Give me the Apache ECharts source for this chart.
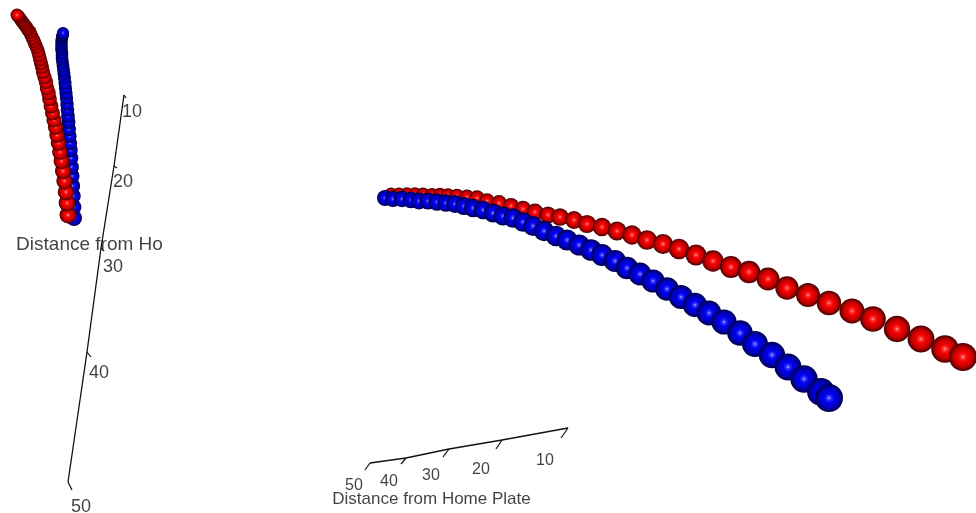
<!DOCTYPE html>
<html><head><meta charset="utf-8">
<style>html,body{margin:0;padding:0;background:#fff}#c{width:976px;height:513px}</style>
<script src="https://cdn.jsdelivr.net/npm/echarts@6/dist/echarts.min.js"></script>
</head><body><div id="c"></div>
<script>
// Picture-plane readings of each projected trajectory (x, y)
const sideRedX = [68,67,66,64.5,63,61.5,60,58.5,57,55.5,54,52.5,51,49.5,48.5,47,46,44.5,43,42,41,40,39,38,36.5,35,34,32.5,31,30,28,27,25.5,24,22.5,21,20,19,18,17];
const sideRedY = [215,203,192,181,171,161,152,143,135,127,120,113,106,99,93,88,82,77,72,67,63,59,55,51,47,44,41,38,35,32,30,28,26,24,22,20,18.5,17,16,15];
const sideBlueX = [74,73.5,73,72.5,72,71.5,71,70.5,70,69.5,69,68.5,68,67.5,67,66.5,66,65.5,65,64.5,64,63.5,63,62.5,62,62,62,61.5,61.5,61.5,61.5,61.5,61.5,62,62,62.5,62.5,63,63,63];
const sideBlueY = [218,207,196,186,176,167,158,150,143,136,129,122,116,110,104,98,93,88,83,78,74,70,66,62,59,56,53,50,48,46,44,42,40,38.5,37,36,35,34.5,33.5,33];
const frontRedX = [391,399,407,415,423,432,440,448,457,467,477,487,499,511,523,535,548,560,574,587,602,617,632,647,663,679,696,713,731,749,768,787,808,829,852,873,897,921,945,963];
const frontRedY = [194,194,194,194,194.5,195,195,195.5,196,197,198,201,203,206,209,212,215,217,220,224,227,231,235,240,244,249,255,261,267,272,279,288,295,303,311,319,329,339,349,357];
const frontBlueX = [385,393,402,411,419,428,437,446,455,464,473,483,493,503,513,523,533,544,556,567,579,591,602,615,627,640,653,667,681,695,709,724,740,755,772,788,804,821,829];
const frontBlueY = [198,199,199,200,201,201,202,203,204,206,208,210,213,216,218,222,226,231,236,240,245,250,255,261,268,274,281,289,297,305,313,322,333,344,355,367,379,392,398];
// Depth axis on the left panel
const sideAxisTicks = ['10','20','30','40','50'];
const sideAxisX = [124,114,101,87,68];
const sideAxisY = [95,166,248,352,482];
const sideTickEndX = [126,117,104,91,72];
const sideTickEndY = [98,168,251,357,490];
const sideLabelX = [132,123,113,99,81];
const sideLabelY = [112,182,267,373,507];
// Depth axis on the right panel
const frontAxisTicks = ['10','20','30','40','50'];
const frontAxisX = [568,502,449,406,370];
const frontAxisY = [428,440,449,458,463];
const frontTickEndX = [561,496,443,401,365];
const frontTickEndY = [438,449,457,464,470];
const frontLabelX = [545,481,431,389,354];
const frontLabelY = [461,470,476,482,486];

const zip = (a, b) => a.map((v, i) => [v, b[i]]);
const ball = (stops) => ({type:'radial', x:.5, y:.5, r:.5,
  colorStops: stops.map((c, i) => ({offset:[0,.14,.34,.68,.86,1][i], color:c}))});
const RED = ball(['#ffa4a4','#ff3434','#f40000','#c40000','#800000','#3a0000']);
const BLUE = ball(['#acacff','#3434ff','#0000f0','#0000c0','#000080','#00003a']);

function balls(xs, ys, color, z, keyIdx, lo, hi, small, large) {
  return {type:'scatter', data: zip(xs, ys), z, silent:true,
    symbol:'circle',
    symbolSize: (v) => small + (large - small) * (v[keyIdx] - lo) / (hi - lo),
    itemStyle:{color, opacity:1}};
}
function axisSeries(xs, ys, ex, ey, labels, lx, ly, fs) {
  const out = [{type:'line', data: zip(xs, ys), symbol:'none', silent:true, z:5,
    lineStyle:{color:'#111', width:1.3}}];
  xs.forEach((x, i) => out.push({type:'line', symbol:'none', silent:true, z:5,
    data:[[x, ys[i]],[ex[i], ey[i]]], lineStyle:{color:'#111', width:1.2}}));
  out.push(textSeries(zip(lx, ly).map((p, i) => [p[0], p[1], labels[i]]), fs));
  return out;
}
function textSeries(rows, fs) {
  return {type:'scatter', data: rows, symbolSize:0, silent:true, z:6,
    label:{show:true, position:'inside', formatter:(p) => p.data[2],
      fontFamily:'Liberation Sans', fontSize:fs, color:'#111'}};
}
const chart = echarts.init(document.getElementById('c'), null, {renderer:'canvas'});
chart.setOption({
  animation:false, backgroundColor:'#fff',
  grid:{left:0,right:0,top:0,bottom:0},
  xAxis:{type:'value', min:0, max:976, show:false},
  yAxis:{type:'value', min:0, max:513, inverse:true, show:false},
  series:[
    balls(sideBlueX, sideBlueY, BLUE, 2, 1, 33, 218, 12, 16),
    balls(sideRedX, sideRedY, RED, 3, 1, 15, 215, 13, 17),
    balls(frontRedX, frontRedY, RED, 2, 0, 391, 963, 13, 28),
    balls(frontBlueX, frontBlueY, BLUE, 3, 0, 385, 829, 16, 28),
    ...axisSeries(sideAxisX, sideAxisY, sideTickEndX, sideTickEndY, sideAxisTicks, sideLabelX, sideLabelY, 18),
    ...axisSeries(frontAxisX, frontAxisY, frontTickEndX, frontTickEndY, frontAxisTicks, frontLabelX, frontLabelY, 16),
    textSeries([[89.5,245,'Distance from Ho']], 19),
    textSeries([[431.5,499,'Distance from Home Plate']], 17)
  ]
});
</script></body></html>
